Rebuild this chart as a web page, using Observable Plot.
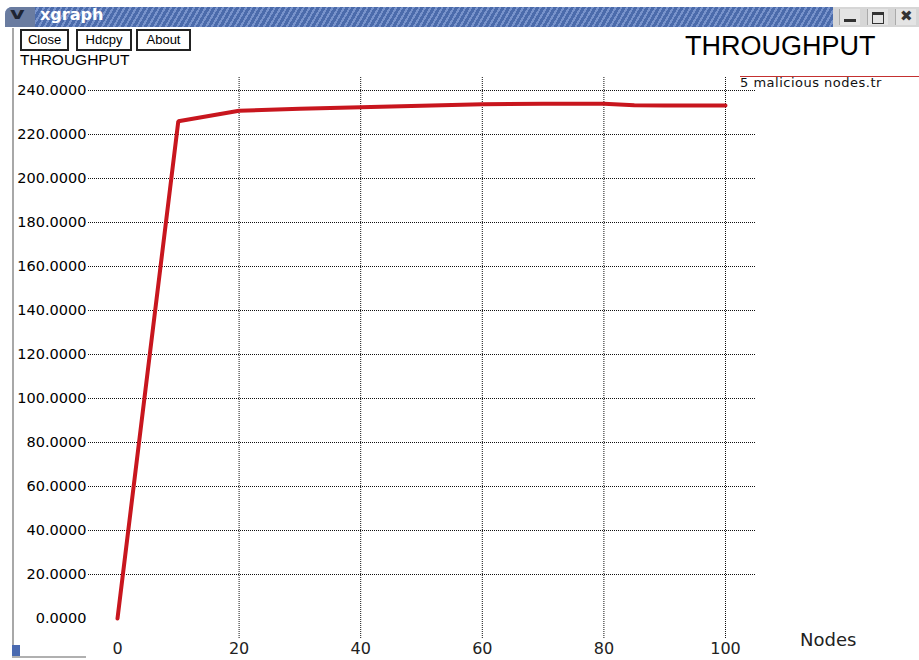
<!DOCTYPE html>
<html>
<head>
<meta charset="utf-8">
<script src="https://cdn.jsdelivr.net/npm/d3@7"></script>
<script src="https://cdn.jsdelivr.net/npm/@observablehq/plot@0.6"></script>
<style>
  html, body { margin: 0; padding: 0; background: #fff; }
  #win { position: relative; width: 919px; height: 660px; overflow: hidden; background: #fff; font-family: "Liberation Sans", Arial, sans-serif; }
  .abs { position: absolute; }
  #titlebar { left: 5px; top: 7px; width: 828px; height: 20px; border-top-left-radius: 7px;
    background: repeating-linear-gradient(120deg, #4b6bab 0px, #4b6bab 3px, #7893cb 3px, #7893cb 5px); }
  #menubtn { left: 5px; top: 7px; width: 30px; height: 20px; border-top-left-radius: 7px; background: #6a7ca0; }
  #menubtn span { position: absolute; left: 7px; top: -3px; font: bold 16px "DejaVu Sans"; color: #1e2433; transform: scaleX(1.4); }
  #wtitle { left: 40px; top: 5px; font: bold 16px "DejaVu Sans", sans-serif; color: #fff; }
  #wbtns { left: 833px; top: 7px; width: 86px; height: 20px; background: #d6d6d6; }
  .wb { position: absolute; top: 2px; width: 20px; height: 16px; background: #e4e4e4; border-left: 1px solid #aaa; }
  .btn { position: absolute; top: 29px; height: 18px; border: 2px solid #222; background: #fff; font: 13px "Liberation Sans", Arial, sans-serif; line-height: 18px; text-align: center; box-sizing: content-box; }
  #leftborder { left: 12px; top: 28px; width: 2px; height: 630px; background: #a8a8a8; }
  #bottomline { left: 12px; top: 656px; width: 74px; height: 2px; background: #b0b0b0; }
  #bluebit { left: 12px; top: 645px; width: 8px; height: 11px; background: #4a6ab0; }
</style>
</head>
<body>
<div id="win">
  <div id="titlebar" class="abs"></div>
  <div id="menubtn" class="abs"><span>v</span></div>
  <div id="wtitle" class="abs">xgraph</div>
  <div id="wbtns" class="abs">
    <div class="wb" style="left:6px;"><div class="abs" style="left:4px;top:10px;width:12px;height:3px;background:#333;"></div></div>
    <div class="wb" style="left:34px;"><div class="abs" style="left:4px;top:3px;width:10px;height:8px;border:1px solid #333;border-top-width:3px;"></div></div>
    <div class="wb" style="left:62px;"><div class="abs" style="left:4px;top:-2px;font:bold 15px 'DejaVu Sans';color:#333;">✖</div></div>
  </div>
  <div id="leftborder" class="abs"></div>
  <div id="bluebit" class="abs"></div>
  <div id="bottomline" class="abs"></div>
  <div class="btn" style="left:20px;width:45px;">Close</div>
  <div class="btn" style="left:76px;width:52px;">Hdcpy</div>
  <div class="btn" style="left:136px;width:51px;">About</div>
  <div class="abs" style="left:20px;top:51px;font:15.5px 'Liberation Sans',Arial,sans-serif;color:#000;">THROUGHPUT</div>
  <div class="abs" style="left:685px;top:31px;font:27px 'Liberation Sans',Arial,sans-serif;color:#000;">THROUGHPUT</div>
  <div id="plot" class="abs" style="left:0;top:62px;"></div>
  <div class="abs" style="left:740px;top:76px;width:179px;height:1px;background:#c43030;"></div>
  <div class="abs" style="left:740px;top:75px;font:13px 'DejaVu Sans',sans-serif;letter-spacing:0.5px;color:#111;">5 malicious nodes.tr</div>
  <div class="abs" style="left:800px;top:629px;font:18px 'DejaVu Sans',sans-serif;color:#222;">Nodes</div>
</div>
<script>
// Data
const nodes = [0, 10, 20, 30, 40, 50, 60, 70, 80, 85, 90, 100];
const throughput = [0, 226.0, 230.8, 231.7, 232.4, 233.1, 233.7, 234.0, 234.0, 233.3, 233.2, 233.2];
const xTicks = [0, 20, 40, 60, 80, 100];
const yTicks = [0, 20, 40, 60, 80, 100, 120, 140, 160, 180, 200, 220, 240];

const data = nodes.map((n, i) => ({nodes: n, throughput: throughput[i]}));

const chart = Plot.plot({
  width: 919,
  height: 598,
  marginLeft: 117,
  marginRight: 194,
  marginTop: 28,
  marginBottom: 42,
  style: {fontFamily: "DejaVu Sans, sans-serif", color: "#000", background: "transparent", overflow: "visible"},
  x: {domain: [0, 100], label: null},
  y: {domain: [0, 240], label: null},
  marks: [
    Plot.ruleY(yTicks.filter(d => d > 0), {stroke: "#111", strokeWidth: 1, strokeDasharray: "1,1", insetLeft: -29, insetRight: -30}),
    Plot.ruleX(xTicks.filter(d => d > 0), {stroke: "#111", strokeWidth: 1, strokeDasharray: "1,1", insetTop: -13, insetBottom: -20}),
    Plot.line(data, {x: "nodes", y: "throughput", stroke: "#c8161e", strokeWidth: 4, strokeLinejoin: "miter"}),
    Plot.axisY({ticks: yTicks, tickFormat: d => d.toFixed(4), tickSize: 0, tickPadding: 31, fontSize: 14.5, label: null}),
    Plot.axisX({ticks: xTicks, tickFormat: d => String(d), tickSize: 0, tickPadding: 24, fontSize: 16, label: null, fill: "#222"})
  ]
});
document.getElementById("plot").appendChild(chart);
</script>
</body>
</html>
